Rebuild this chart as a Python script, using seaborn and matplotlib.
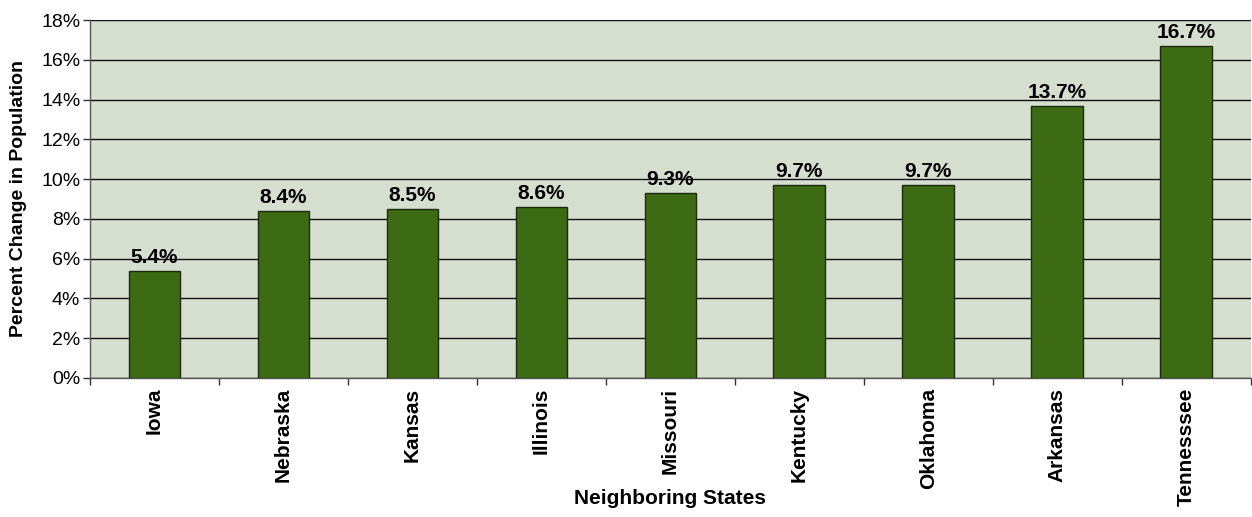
import matplotlib
matplotlib.use("Agg")
import matplotlib.pyplot as plt
import seaborn as sns
import pandas as pd
from matplotlib.ticker import FixedLocator

states = ["Iowa", "Nebraska", "Kansas", "Illinois", "Missouri",
          "Kentucky", "Oklahoma", "Arkansas", "Tennesssee"]
pct_change = [5.4, 8.4, 8.5, 8.6, 9.3, 9.7, 9.7, 13.7, 16.7]
y_ticks = [0, 2, 4, 6, 8, 10, 12, 14, 16, 18]

df = pd.DataFrame({"state": states, "pct": pct_change})

sns.set_theme(style="white")
plt.rcParams["font.family"] = ["Liberation Sans", "DejaVu Sans"]
plt.rcParams["text.color"] = "#000000"

fig = plt.figure(figsize=(12.52, 5.17), dpi=100)
ax = fig.add_axes([0.0719, 0.2689, 0.927, 0.6924])
ax.set_facecolor("#d6ded0")

sns.barplot(data=df, x="state", y="pct", color="#3c6b14", width=0.4,
            edgecolor="#1e2a10", linewidth=1.0, saturation=1, ax=ax, zorder=3)

ax.set_ylim(0, 18)
ax.set_xlim(-0.5, len(states) - 0.5)
ax.set_yticks(y_ticks)
ax.set_yticklabels([f"{v}%" for v in y_ticks], fontsize=14, color="#000000")

ax.yaxis.grid(True, color="#111111", linewidth=1.0, zorder=1)
ax.set_axisbelow(True)

# category labels sit on major ticks; boundary tick marks on minor ticks
ax.set_xticks(range(len(states)))
ax.set_xticklabels(states, rotation=90, fontsize=15, fontweight="bold", color="#000000")
ax.xaxis.set_minor_locator(FixedLocator([i - 0.5 for i in range(len(states) + 1)]))
ax.tick_params(axis="x", which="major", length=0, pad=7)
ax.tick_params(axis="x", which="minor", length=5, width=1, color="#333333", direction="out", bottom=True)
ax.tick_params(axis="y", which="major", length=5, width=1, color="#333333", direction="out", left=True, pad=2)

for spine in ["top", "right"]:
    ax.spines[spine].set_visible(False)
for spine in ["left", "bottom"]:
    ax.spines[spine].set_color("#555555")
    ax.spines[spine].set_linewidth(1.0)

for i, v in enumerate(pct_change):
    ax.text(i, v + 0.2, f"{v}%", ha="center", va="bottom",
            fontsize=15, fontweight="bold", color="#000000")

ax.set_xlabel("Neighboring States", fontsize=15, fontweight="bold", color="#000000")
ax.xaxis.set_label_coords(0.5, -0.31)
ax.set_ylabel("Percent Change in Population", fontsize=14, fontweight="bold", color="#000000")
ax.yaxis.set_label_coords(-0.054, 0.5)

fig.savefig("out.png", dpi=100)
